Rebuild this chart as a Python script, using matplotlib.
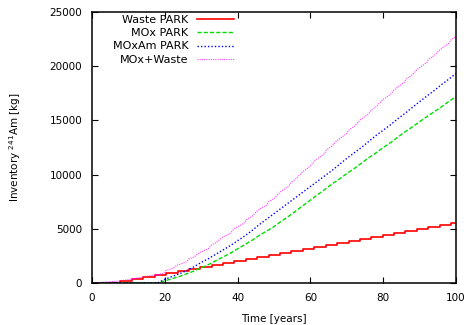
import matplotlib
matplotlib.use("Agg")
import matplotlib.pyplot as plt
import numpy as np

# data (kg of Am-241)
years = [0, 18, 20, 22, 24, 26, 28, 30, 32, 34, 36, 38, 40, 42, 44, 46, 48, 50,
         52, 54, 56, 58, 60, 62, 64, 66, 68, 70, 72, 74, 76, 78, 80, 82, 84, 86,
         88, 90, 92, 94, 96, 98, 100]
mox_park = [0, 0, 200, 400, 600, 850, 1100, 1400, 1700, 2050, 2400, 2750, 3150,
            3550, 3950, 4400, 4800, 5200, 5700, 6150, 6650, 7150, 7650, 8150,
            8650, 9150, 9600, 10100, 10550, 11050, 11550, 12000, 12500, 12950,
            13450, 13950, 14400, 14880, 15350, 15800, 16250, 16750, 17190]
moxam_park = [0, 0, 350, 600, 850, 1150, 1500, 1900, 2250, 2650, 3050, 3450,
              3900, 4350, 4850, 5400, 5900, 6400, 6900, 7400, 7900, 8400, 8900,
              9400, 9900, 10400, 10950, 11500, 12000, 12500, 13050, 13600,
              14100, 14600, 15150, 15650, 16200, 16730, 17250, 17750, 18300,
              18800, 19340]

waste_t = [0, 7.8, 10.9, 14.1, 17.2, 20.3, 23.5, 26.6, 29.7, 32.9, 36.0, 39.1,
           42.3, 45.4, 48.5, 51.7, 54.8, 57.9, 61.1, 64.2, 67.3, 70.5, 73.6,
           76.7, 79.9, 83.0, 86.1, 89.3, 92.4, 95.5, 98.7, 100]
waste_park = [0, 185, 370, 555, 740, 925, 1110, 1295, 1480, 1665, 1850, 2035,
              2220, 2405, 2590, 2775, 2960, 3145, 3330, 3515, 3700, 3885, 4070,
              4255, 4440, 4625, 4810, 4995, 5180, 5365, 5550, 5550]


def step_value(t, xs, ys):
    idx = np.searchsorted(xs, t, side="right") - 1
    return np.asarray(ys)[idx]


# MOx+Waste = MOx PARK + Waste PARK
t_sum = np.union1d(years, waste_t)
mox_waste = np.interp(t_sum, years, mox_park) + step_value(t_sum, waste_t, waste_park)

fig = plt.figure(figsize=(4.68, 3.25), dpi=100)
ax = fig.add_axes([0.1966, 0.1292, 0.7778, 0.8338])

ax.plot(waste_t, waste_park, color="#ff0000", lw=1.2, drawstyle="steps-post",
        label="Waste PARK")
ax.plot(years, mox_park, color="#00dd00", lw=1.0, ls=(0, (3, 1.5)),
        label="MOx PARK")
ax.plot(years, moxam_park, color="#0000ff", lw=1.0, ls=(0, (1, 1.5)),
        label="MOxAm PARK")
ax.plot(t_sum, mox_waste, color="#ff00ff", lw=0.8, ls=(0, (1, 1)), alpha=0.75,
        label="MOx+Waste")

ax.set_xlim(0, 100)
ax.set_ylim(0, 25000)
ax.set_xticks([0, 20, 40, 60, 80, 100])
ax.set_yticks([0, 5000, 10000, 15000, 20000, 25000])
ax.tick_params(direction="in", top=True, right=True, labelsize=7.5, length=4,
               width=0.8, pad=7)
for s in ax.spines.values():
    s.set_linewidth(1.1)

ax.set_xlabel("Time [years]", fontsize=7.5, labelpad=8)
ax.set_ylabel("Inventory $^{241}$Am [kg]", fontsize=7.5, labelpad=19)

ax.legend(loc="upper right", bbox_to_anchor=(0.39, 0.99), frameon=False,
          markerfirst=False, fontsize=8, handlelength=3.3, handletextpad=0.8,
          labelspacing=0.3, borderpad=0, borderaxespad=0)

fig.savefig("out.png", dpi=100)
